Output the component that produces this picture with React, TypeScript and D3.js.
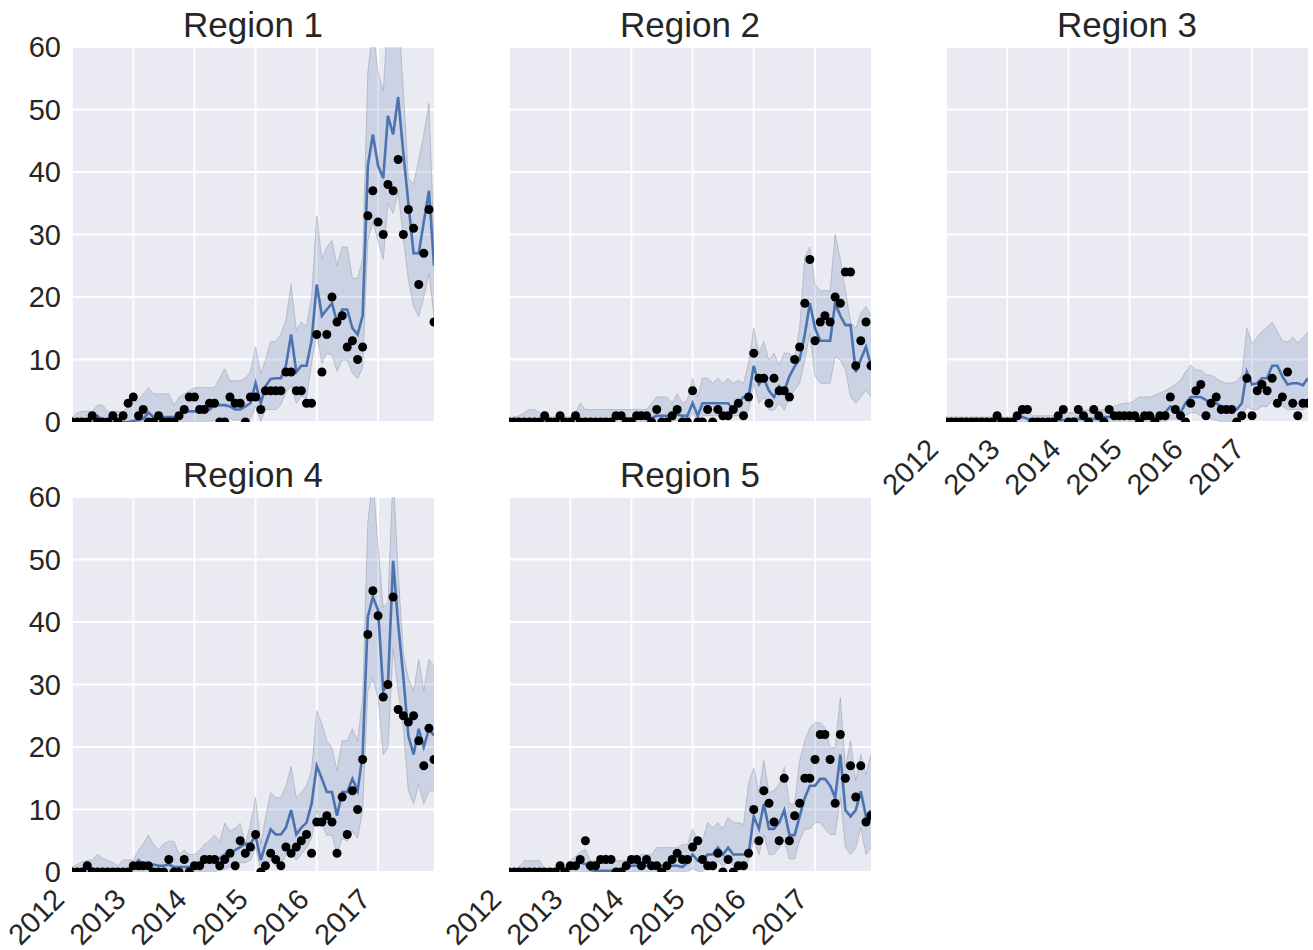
import React from "react";
import * as d3 from "d3";

const regions = ["Region 1", "Region 2", "Region 3", "Region 4", "Region 5"];
const yTicks = [0, 10, 20, 30, 40, 50, 60];
const yearTicks = [2012, 2013, 2014, 2015, 2016, 2017];
const months = d3.range(72).map((i) => new Date(2012, i, 1));

const r1Obs = [0,0,0,0,1,0,0,0,1,0, 1,3,4,1,2,0,0,1,0,0, 0,1,2,4,4,2,2,3,3,0, 0,4,3,3,0,4,4,2,5,5, 5,5,8,8,5,5,3,3,14,8, 14,20,16,17,12,13,10,12,33,37, 32,30,38,37,42,30,34,31,22,27, 34,16];
const r1Mean = [0,0,0,0,0.5,1,0.3,0,0,0, 0,0,0.2,0.3,0.5,1.5,0.8,0.8,0.8,0.8, 0.8,1,1.7,1.7,1.7,1.7,1.7,2,2.7,2.7, 2.7,2.5,2,2,2.5,3,6.2,3,5.7,6.9, 7,7,9,14,8,9,9,13,22,17, 18,19,16,18,18,15,14,17,41,46, 41,39,49,46,52,43,35,27,27,32, 37,25];
const r1Hi = [0.7,1.5,1.7,1.7,1.7,2.7,2.7,1.7,1.7,1.7, 1.7,2.5,3,3.5,4.5,5.5,4.5,4.5,4.5,4.5, 2.7,4,4.5,5,5.5,5.5,5.5,5.5,5.5,7, 8.5,6.6,6.6,6.6,7,8,12,7.8,9.9,12.9, 12.9,14,16.3,22,14.7,16,15.3,20,33,26, 28,29,25,28,28,23,23,26,56,63, 56,53,65,63,66,53,39,38,42,46, 51,29];
const r1Lo = [0,0,0,0,0,0,0,0,0,0, 0,0,0,0,0,0,0,0,0,0, 0,0,0,0,0,0,0,0,0.3,0.3, 0.5,0.5,0.3,0.3,0.3,0.4,2.5,0.1,2,2, 2,2.8,4.7,5.8,3,4.1,3.8,9.4,14.2,9.4, 11,10.7,8.1,9.9,9.9,7.8,7,8.6,29,32, 29,26,35,33.4,36.8,29.4,22.8,18.5,16.9,20, 23.8,17];

const r2Obs = [0,0,0,0,0,0,0,1,0,0, 1,0,0,1,0,0,0,0,0,0, 0,1,1,0,0,1,1,1,0,2, 0,0,1,2,0,0,5,0,0,2, 0,2,1,1,2,3,1,4,11,7, 7,3,7,5,5,4,10,12,19,26, 13,16,17,16,20,19,24,24,9,13, 16,9];
const r2Mean = [0,0,0,0,0,0,0,0.1,0.1,0.1, 0.1,0.1,0.3,0.8,0.3,0.2,0.2,0.2,0.2,0.2, 0.2,0.6,0.6,0.6,0.6,0.6,0.6,0.6,0.6,1, 1,1,1,1.2,1,1,3,1,3,3, 3,3,3,3,2,3,4,4,9,6, 7,5,4,5.7,5,7.3,8.9,10,14,19, 15,13,13,13,19,17,15.5,15.5,8,10, 12,9];
const r2Hi = [0.7,0.8,1,1.5,2,2,1.5,0.8,0.8,0.8, 0.8,0.8,0.8,1.5,3,2,2,2,2,2, 2,2,2,2,2,2,2,2,3,4, 4,4,3,4.5,3,3.5,7,4,7,7, 6.2,7,6.2,7,6.2,6.7,6.2,9.4,15,11, 12.9,9.9,11,9.1,11,11,10.2,15,26.4,28, 22,21,21,21,30,26,21,16,15,17.4, 18.5,17];
const r2Lo = [0,0,0,0,0,0,0,0,0,0, 0,0,0,0,0,0,0,0,0,0, 0,0,0,0,0,0,0,0,0,0, 0.2,0.2,0.2,0.3,0.2,0.2,1.4,0.3,1,1, 1,1,1,1,1,1,1,1.9,6.2,3, 4,1.9,1.9,3,1.9,4,5.1,6.2,9.9,14.2, 7.3,6.2,6.2,6.2,10.5,9.9,8.4,4,3,4, 5.1,4];

const r3Obs = [0,0,0,0,0,0,0,0,0,0, 1,0,0,0,1,2,2,0,0,0, 0,0,1,2,0,0,2,1,0,2, 1,0,2,1,1,1,1,1,0,1, 1,0,1,1,4,2,1,0,3,5, 6,1,3,4,2,2,2,0,1,7, 1,5,6,5,7,3,4,8,3,1, 3,3];
const r3Mean = [0.1,0.1,0.1,0.1,0.1,0.1,0.1,0.1,0.1,0.1, 0.1,0.1,0.1,0.1,0.5,0.8,0.5,0.3,0.3,0.3, 0.3,0.3,0.3,0.3,0.3,0.5,0.5,0.5,0.5,0.5, 0.5,0.8,0.8,0.85,0.85,0.85,0.85,0.85,0.85,0.85, 0.85,0.85,0.85,1.5,2.5,2,1.5,3,4,4, 4,3.5,3,3,2.5,2,2,2,3,8, 6,6.2,7,7,9,9,7.3,6,6.2,6.2, 5.9,7];
const r3Hi = [0.8,0.8,0.8,0.8,0.8,0.8,0.8,0.8,0.8,0.8, 1.2,0.8,0.8,0.8,1.2,1.9,1.9,1,1,1, 1,1,1.5,1.9,1.5,1.5,1.9,1.9,1.9,1.9, 1.9,2,2,2.5,2.8,3,3,3.5,4,4, 4,4.3,4.6,5,5.5,6,6.7,8,9.1,8.3, 8.3,7.5,7.5,7,6.5,6.2,6.2,6.5,7.5,15, 12.6,13.6,14.5,15.2,16,14.5,13,12.8,13.6,12.6, 13.5,14.4];
const r3Lo = [0,0,0,0,0,0,0,0,0,0, 0,0,0,0,0,0,0,0,0,0, 0,0,0,0,0,0,0,0,0,0, 0,0,0,0,0,0,0,0,0,0, 0,0,0,0,0.5,0.5,0.5,1,1.5,1.5, 1,0.8,0.5,0.3,0,0,0,0,0.5,2.5, 2,2,2.5,2.5,3.5,3.5,2.5,2,2,2, 2,2.5];

const r4Obs = [0,0,0,1,0,0,0,0,0,0, 0,0,1,1,1,1,0,0,0,2, 0,0,2,0,1,1,2,2,2,1, 2,3,1,5,3,4,6,0,1,3, 2,1,4,3,4,5,6,3,8,8, 9,8,3,12,6,13,10,18,38,45, 41,28,30,44,26,25,24,25,21,17, 23,18];
const r4Mean = [0,0.2,0.5,0.8,0.6,0.2,0,0,0,0, 0,0.2,0.8,1.9,1.2,1.2,1.2,1,1,1.2, 0.8,0.8,0.8,0.8,1,1.5,1.8,1.8,1.8,2.2, 2.8,3,3.5,4,4.5,4.5,5.8,1.9,4.4,6.8, 6,6,7.1,9.9,6,7.1,7.9,10.9,17,14.9, 12.8,12.8,9,12.8,12.8,14.9,13,18.8,40.8,44, 41.9,29,30,49.8,39.7,31.2,21.8,18.8,22.9,20, 22.9,21.8];
const r4Hi = [0.8,1.2,1.6,1.9,1.9,2.8,2.2,1.9,1.5,1, 1.9,1.9,1.9,3.5,4.5,5.9,4.5,3.5,4.5,4.9, 4.9,2.8,3.5,2.8,2.8,3.5,4.4,5,5.9,4.9, 7.8,6.5,7,7.8,4.4,7.6,11.9,4.4,8.7,12.7, 11.9,11.9,13.8,16.9,11.9,12.7,13.8,16.2,25.8,23.7, 21,19.9,16.2,21,21,22.9,21,27.9,56,63, 52.2,42.3,43.2,64,48,35,31,29,34,29, 34,33];
const r4Lo = [0,0,0,0,0,0,0,0,0,0, 0,0,0,0,0,0,0,0,0,0, 0,0,0,0,0,0,0,0,0,0.3, 0.5,0.8,1,1.5,1.5,1.9,3.9,0.2,1,1.9, 1,1,2.8,2.8,1.9,2.8,3.9,5.4,9.9,7.6, 5.9,5.9,2.8,5.4,4.9,6.5,5.4,9.9,29,30.9, 27.9,18.8,19.9,35.7,29,23.1,13,10.9,14,10.9, 13,13];

const r5Obs = [0,0,0,0,0,0,0,0,0,0, 1,0,1,1,2,5,1,1,2,2, 2,0,0,1,2,2,1,2,1,1, 0,1,2,3,2,2,4,5,2,1, 1,3,0,2,0,1,1,3,10,5, 13,11,8,5,15,5,9,11,15,15, 18,22,22,18,11,22,15,17,12,17, 8,9];
const r5Mean = [0.1,0.1,0.1,0.1,0.1,0.1,0.1,0.1,0.1,0.1, 0.1,0.5,0.8,1,1.5,1.3,0.3,0.2,0.2,0.2, 0.2,0.2,0.5,0.8,1,1,1,1,1,1, 1,1,1,1,0.8,1.5,2.8,1.8,1.9,2.8, 2.8,3.9,2.8,3.9,2.8,2.8,2.8,2.8,8.9,6.9, 10.9,6.9,6.9,7.9,9.9,5.9,5.9,8.9,11.9,13.8, 13.8,14.9,14.9,13.8,11.9,18.8,9.9,8.9,9.9,12.9, 8.9,9.9];
const r5Hi = [0.3,0.3,0.8,1.8,1.8,1.8,1.8,0.5,0.3,0.3, 0.3,1,1.8,2.5,3.2,3.6,1.8,1.8,2.3,2.8, 1.8,1.8,1.8,1.8,1.8,2.3,2.8,2.8,2.8,3.9, 3.9,3.9,3.9,3.9,4.4,4.4,6.9,5,5,7.9, 7.1,7.9,6.9,8.7,7.9,7.9,7.6,14.1,16.7,12.7, 17.8,12.7,13,14.1,16.8,10.9,10.9,17.8,21,23.1, 23.9,23.9,23.1,19.9,19.9,27.9,16.7,21,14.6,18.8, 15.6,18.8];
const r5Lo = [0,0,0,0,0,0,0,0,0,0, 0,0,0,0,0,0,0,0,0,0, 0,0,0,0,0,0,0,0,0,0, 0,0,0,0,0,0,0.6,0.1,0,0.9, 0.9,1.8,0.9,1.8,0.9,0.9,0.9,1.8,5,2.8, 6,2.8,2.8,3.9,5,2.1,2.1,5,6.9,6.9, 7.9,7.9,6.9,6,6,11.9,3.9,2.8,3.9,7.1, 2.8,3.9];

const regionData = [
  { obs: r1Obs, mean: r1Mean, lo: r1Lo, hi: r1Hi },
  { obs: r2Obs, mean: r2Mean, lo: r2Lo, hi: r2Hi },
  { obs: r3Obs, mean: r3Mean, lo: r3Lo, hi: r3Hi },
  { obs: r4Obs, mean: r4Mean, lo: r4Lo, hi: r4Hi },
  { obs: r5Obs, mean: r5Mean, lo: r5Lo, hi: r5Hi },
];

const W = 1313;
const H = 950;
const colX = [72, 509, 946];
const rowY = [47, 497];
const PW = 362;
const PH = 375;
const FONT = "Arial, 'Liberation Sans', Helvetica, sans-serif";
const TXT = "#262626";
const BLUE = "#4C72B0";

function Panel({ idx }: { idx: number }) {
  const col = idx % 3;
  const row = Math.floor(idx / 3);
  const x0 = colX[col];
  const y0 = rowY[row];
  const d = regionData[idx];
  const x = d3.scaleTime().domain([months[0], months[71]]).range([0, PW]);
  const y = d3.scaleLinear().domain([0, 60]).range([PH, 0]);
  const area = d3
    .area<number>()
    .x((_, i) => x(months[i]))
    .y0((_, i) => y(d.lo[i]))
    .y1((v) => y(v));
  const line = d3
    .line<number>()
    .x((_, i) => x(months[i]))
    .y((v) => y(v));
  const clipId = `clip${idx}`;
  const showY = col === 0;
  const showX = row === 1 || idx === 2;
  return (
    <g transform={`translate(${x0},${y0})`}>
      <defs>
        <clipPath id={clipId}>
          <rect x={0} y={0} width={PW} height={PH} />
        </clipPath>
      </defs>
      <rect x={0} y={0} width={PW} height={PH} fill="#EAEAF2" />
      {yTicks.map((t) => (
        <line key={"gy" + t} x1={0} x2={PW} y1={y(t)} y2={y(t)} stroke="#fff" strokeWidth={1.8} />
      ))}
      {yearTicks.map((yr) => (
        <line
          key={"gx" + yr}
          x1={x(new Date(yr, 0, 1))}
          x2={x(new Date(yr, 0, 1))}
          y1={0}
          y2={PH}
          stroke="#fff"
          strokeWidth={1.8}
        />
      ))}
      <g clipPath={`url(#${clipId})`}>
        <path d={area(d.hi) || ""} fill={BLUE} fillOpacity={0.2} />
        <path d={line(d.hi) || ""} fill="none" stroke="#9a9aa8" strokeOpacity={0.5} strokeWidth={1} />
        <path d={line(d.lo) || ""} fill="none" stroke="#9a9aa8" strokeOpacity={0.5} strokeWidth={1} />
        <path d={line(d.mean) || ""} fill="none" stroke={BLUE} strokeWidth={2.6} />
        {d.obs.map((v, i) => (
          <circle key={i} cx={x(months[i])} cy={y(v)} r={4.5} fill="#000" />
        ))}
      </g>
      <text
        x={PW / 2}
        y={-10}
        textAnchor="middle"
        fontFamily={FONT}
        fontSize={35}
        fill={TXT}
      >
        {regions[idx]}
      </text>
      {showY &&
        yTicks.map((t) => (
          <text
            key={"yl" + t}
            x={-11}
            y={y(t)}
            dy="0.36em"
            textAnchor="end"
            fontFamily={FONT}
            fontSize={29}
            fill={TXT}
          >
            {t}
          </text>
        ))}
      {showX &&
        yearTicks.map((yr) => {
          const tx = x(new Date(yr, 0, 1));
          return (
            <text
              key={"xl" + yr}
              transform={`translate(${tx - 6},${PH + 29}) rotate(-45)`}
              textAnchor="end"
              fontFamily={FONT}
              fontSize={29}
              fill={TXT}
            >
              {yr}
            </text>
          );
        })}
    </g>
  );
}

export default function App() {
  return (
    <svg
      width={W}
      height={H}
      viewBox={`0 0 ${W} ${H}`}
      style={{ position: "absolute", left: 0, top: 0, background: "#fff" }}
    >
      {regions.map((_, i) => (
        <Panel key={i} idx={i} />
      ))}
    </svg>
  );
}
